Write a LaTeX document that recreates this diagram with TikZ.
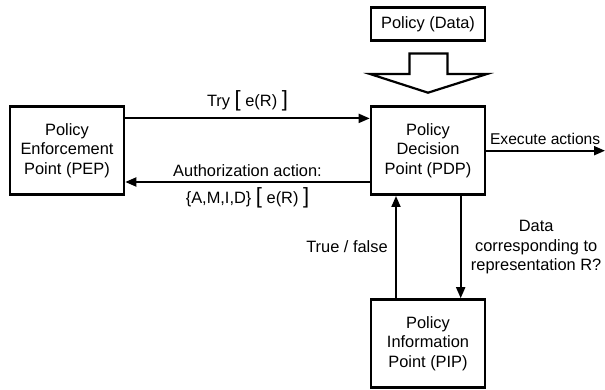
\documentclass[tikz,border=0pt]{standalone}
\usepackage{fontspec}
\setmainfont{Liberation Sans}
\usepackage{tikz}
\usetikzlibrary{positioning,arrows.meta,calc}

\newcommand{\bigbr}[1]{{\fontsize{22}{22}\selectfont #1}}

\begin{document}
\begin{tikzpicture}[x=1pt, y=-1pt, >={Triangle[length=11pt,width=9pt]},
    every node/.style={font=\fontsize{16.4}{19.5}\selectfont, align=center},
    pbox/.style={draw, line width=2.6pt, minimum width=114pt, minimum height=88pt, inner sep=2pt},
    flow/.style={->, line width=1.9pt}]
  \useasboundingbox (0,0) rectangle (605,390);

  \node[pbox] (pep) at (67,150.7) {Policy\\Enforcement\\Point (PEP)};
  \node[pbox] (pdp) at (428,150.7) {Policy\\Decision\\Point (PDP)};
  \node[pbox, minimum height=33pt] (data) at (428,24.2) {Policy (Data)};
  \node[pbox] (pip) at (428,343.5) {Policy\\Information\\Point (PIP)};
  \coordinate (exec) at (605,150.7);

  % hollow arrow from the policy data into the PDP
  \draw[line width=2.2pt, line join=miter]
    (409.5,53.5) -- (447.5,53.5) -- (447.5,74) -- (487,74) -- (428,92.7)
    -- (370,74) -- (409.5,74) -- cycle;

  \draw[flow] ([yshift=-13pt]pep.north east) -- node[above=3pt] {Try \bigbr{[} e(R) \bigbr{]}}
    ([yshift=-13pt]pdp.north west);
  \draw[flow] ([yshift=14pt]pdp.south west) --
    node[above=1pt] {Authorization action:}
    node[below=1pt] {\{A,M,I,D\} \bigbr{[} e(R) \bigbr{]}}
    ([yshift=14pt]pep.south east);
  \draw[flow] (pdp.east) -- node[pos=0, above right=2pt and -0.5pt, anchor=south west,
    font=\fontsize{15.6}{19}\selectfont] {Execute actions} (exec);
  \draw[flow] ([xshift=-32pt]pip.north) -- node[left=4pt] {True / false} ([xshift=-32pt]pdp.south);
  \draw[flow] ([xshift=32.7pt]pdp.south) -- node[right=6pt] {Data\\corresponding to\\representation R?}
    ([xshift=32.7pt]pip.north);
\end{tikzpicture}
\end{document}
